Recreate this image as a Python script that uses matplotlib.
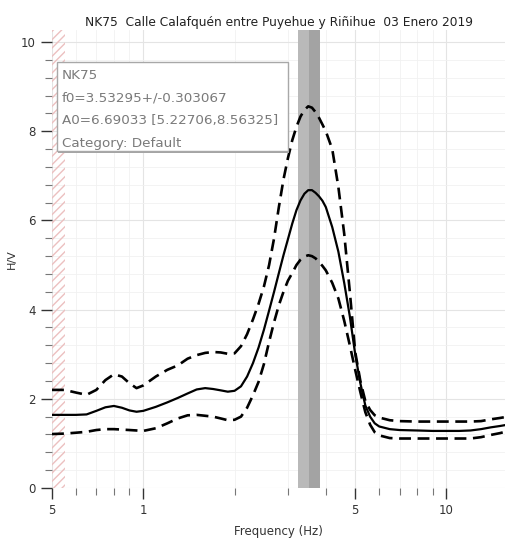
import matplotlib
matplotlib.use("Agg")
import matplotlib.pyplot as plt
from matplotlib.patches import Rectangle
from matplotlib.ticker import FixedLocator, NullFormatter

# values
freq = [0.5, 0.55, 0.6, 0.65, 0.7, 0.75, 0.8, 0.85, 0.9, 0.95, 1.0, 1.1, 1.2, 1.3,
        1.4, 1.5, 1.6, 1.7, 1.8, 1.9, 2.0, 2.1, 2.2, 2.3, 2.4, 2.5, 2.6, 2.7, 2.8,
        2.9, 3.0, 3.1, 3.2, 3.3, 3.4, 3.5, 3.6, 3.7, 3.8, 3.9, 4.0, 4.2, 4.4, 4.6,
        4.8, 5.0, 5.2, 5.4, 5.6, 5.8, 6.0, 6.5, 7.0, 8.0, 9.0, 10.0, 11.0, 12.0,
        13.0, 14.0, 15.0, 15.6]
hv_mean = [1.64, 1.64, 1.64, 1.65, 1.73, 1.81, 1.84, 1.80, 1.74, 1.71, 1.73, 1.82,
           1.92, 2.02, 2.12, 2.21, 2.24, 2.22, 2.19, 2.16, 2.18, 2.28, 2.50, 2.80,
           3.15, 3.55, 3.98, 4.40, 4.82, 5.22, 5.58, 5.93, 6.23, 6.45, 6.60, 6.68,
           6.68, 6.62, 6.54, 6.44, 6.30, 5.85, 5.30, 4.60, 3.85, 3.00, 2.35, 1.85,
           1.60, 1.45, 1.38, 1.32, 1.30, 1.29, 1.28, 1.28, 1.28, 1.29, 1.32, 1.36,
           1.39, 1.41]
hv_upper = [2.20, 2.20, 2.14, 2.09, 2.20, 2.42, 2.55, 2.50, 2.35, 2.24, 2.30, 2.50,
            2.65, 2.75, 2.90, 2.98, 3.03, 3.05, 3.04, 3.01, 3.02, 3.18, 3.45, 3.78,
            4.13, 4.52, 5.00, 5.60, 6.30, 6.92, 7.40, 7.80, 8.10, 8.33, 8.48, 8.56,
            8.53, 8.43, 8.30, 8.15, 8.00, 7.60, 6.75, 5.70, 4.40, 3.05, 2.40, 1.95,
            1.75, 1.63, 1.58, 1.52, 1.50, 1.49, 1.49, 1.49, 1.49, 1.49, 1.50, 1.54,
            1.57, 1.59]
hv_lower = [1.21, 1.22, 1.24, 1.26, 1.30, 1.32, 1.32, 1.31, 1.30, 1.29, 1.28, 1.34,
            1.45, 1.56, 1.63, 1.64, 1.62, 1.60, 1.56, 1.52, 1.53, 1.60, 1.80, 2.08,
            2.38, 2.78, 3.28, 3.72, 4.10, 4.40, 4.65, 4.82, 5.00, 5.12, 5.19, 5.22,
            5.20, 5.15, 5.07, 4.98, 4.88, 4.60, 4.25, 3.75, 3.20, 2.65, 2.15, 1.70,
            1.42, 1.25, 1.18, 1.12, 1.11, 1.11, 1.11, 1.11, 1.11, 1.11, 1.14, 1.19,
            1.23, 1.26]

f0 = 3.53295
f0_std = 0.303067
f_min_valid = 0.553
legend_lines = ["NK75", "f0=3.53295+/-0.303067", "A0=6.69033 [5.22706,8.56325]",
                "Category: Default"]
title = "NK75  Calle Calafqu\u00e9n entre Puyehue y Ri\u00f1ihue  03 Enero 2019"

x_major = [0.5, 1, 5, 10]
x_major_labels = ["5", "1", "5", "10"]
x_minor = [0.6, 0.7, 0.8, 0.9, 2, 3, 4, 6, 7, 8, 9]

fig = plt.figure(figsize=(5.07, 5.40), dpi=100)
ax = fig.add_axes([0.1026, 0.0963, 0.8935, 0.848])
ax.set_xscale("log")
ax.set_xlim(0.5, 15.6)
ax.set_ylim(0, 10.27)

# grid
ax.xaxis.set_major_locator(FixedLocator(x_major))
ax.xaxis.set_minor_locator(FixedLocator(x_minor))
ax.xaxis.set_minor_formatter(NullFormatter())
ax.set_xticklabels(x_major_labels)
ax.set_yticks([0, 2, 4, 6, 8, 10])
ax.set_yticks([v * 0.4 for v in range(26) if v % 5 != 0], minor=True)
ax.grid(which="major", color="#e4e4e4", lw=0.8)
ax.grid(which="minor", color="#f1f1f1", lw=0.6)
ax.set_axisbelow(True)

for s in ax.spines.values():
    s.set_visible(False)
ax.tick_params(which="major", direction="out", length=8, width=1.0,
               color="#333333", labelsize=8.5, labelcolor="#333333")
ax.tick_params(which="minor", direction="out", length=5, width=0.8,
               color="#777777")

# invalid frequency band and f0 band
ax.axvspan(0.5, f_min_valid, facecolor="none", edgecolor="#ecc0c0",
           hatch="////", lw=0, zorder=1)
ax.axvspan(f0 - f0_std, f0, color="#b9b9b9", lw=0, zorder=1.5)
ax.axvspan(f0, f0 + f0_std, color="#a3a3a3", lw=0, zorder=1.5)

# curves
ax.plot(freq, hv_mean, color="black", lw=1.6, zorder=3)
ax.plot(freq, hv_upper, color="black", lw=1.9, ls=(0, (4.5, 2.5)), zorder=3)
ax.plot(freq, hv_lower, color="black", lw=1.9, ls=(0, (4.5, 2.5)), zorder=3)

# info box
ax.add_patch(Rectangle((0.014, 0.731), 0.51, 0.195, transform=ax.transAxes,
                       facecolor="#a5a5a5", edgecolor="none", zorder=4))
ax.add_patch(Rectangle((0.011, 0.735), 0.51, 0.195, transform=ax.transAxes,
                       facecolor="white", edgecolor="#a8a8a8", lw=1.0, zorder=5))
for i, line in enumerate(legend_lines):
    ax.text(0.022, 0.90 - i * 0.049, line, transform=ax.transAxes,
            fontsize=9.7, color="#7a7a7a", va="center", ha="left", zorder=6)

ax.set_title(title, fontsize=8.8, color="#222222", pad=3)
ax.set_xlabel("Frequency (Hz)", fontsize=8.5, color="#333333", labelpad=6)
ax.set_ylabel("H/V", fontsize=8, color="#333333", labelpad=3)

fig.savefig("out.png", dpi=100)
